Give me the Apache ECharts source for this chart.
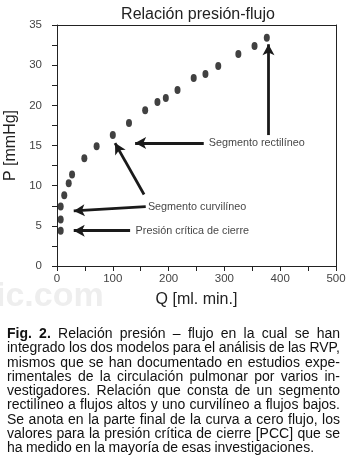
<!DOCTYPE html>
<html>
<head>
<meta charset="utf-8">
<script src="https://cdn.jsdelivr.net/npm/echarts@6/dist/echarts.min.js"></script>
<style>
	html, body { margin: 0; padding: 0; background: #fff; }
	#chart { position: absolute; left: 0; top: 0; width: 347px; height: 469px; }
	#caption {
		position: absolute; left: 7px; top: 326px; width: 333px;
		font-family: "Liberation Sans", Arial, sans-serif;
		font-size: 14px; line-height: 14.25px; word-spacing: -0.5px; color: #111;
	}
	#caption div { text-align: justify; text-align-last: justify; white-space: nowrap; }
	#caption div.last { text-align-last: left; }
</style>
</head>
<body>
<div id="chart"></div>
<div id="caption">
	<div><b>Fig. 2.</b> Relación presión – flujo en la cual se han</div>
	<div>integrado los dos modelos para el análisis de las RVP,</div>
	<div>mismos que se han documentado en estudios expe-</div>
	<div>rimentales de la circulación pulmonar por varios in-</div>
	<div>vestigadores. Relación que consta de un segmento</div>
	<div>rectilíneo a flujos altos y uno curvilíneo a flujos bajos.</div>
	<div>Se anota en la parte final de la curva a cero flujo, los</div>
	<div>valores para la presión crítica de cierre [PCC] que se</div>
	<div class="last">ha medido en la mayoría de esas investigaciones.</div>
</div>
<script>
	// flujo (ml/min) y presión (posición sobre el eje)
	var flowQ = [6.6, 6.6, 6.6, 13, 21, 27, 49, 71, 100, 129, 158, 180, 195, 216, 245, 266, 289, 325, 354, 376];
	var pressureP = [4.4, 5.8, 7.4, 8.8, 10.3, 11.4, 13.4, 14.9, 16.3, 17.8, 19.4, 20.4, 20.9, 21.9, 23.4, 23.9, 24.9, 26.4, 27.4, 28.4];
	// etiquetas del eje Y tal como aparecen en la figura
	var yTickLabels = ['0', '5', '10', '15', '20', '30', '35'];
	var noteTexts = ['Presión crítica de cierre', 'Segmento curvilíneo', 'Segmento rectilíneo'];

	var points = flowQ.map(function(q, i) { return [q, pressureP[i]]; });

	var chart = echarts.init(document.getElementById('chart'));
	var font = '"Liberation Sans", Arial, sans-serif';
	var ink = '#1a1a1a';
	var frame = { show: true, onZero: false, lineStyle: { color: '#222' } };

	chart.setOption({
		animation: false,
		title: {
			text: 'Relación presión-flujo',
			left: 193, top: 2, textAlign: 'center',
			textStyle: { fontFamily: font, fontSize: 16, fontWeight: 'normal', color: '#222' }
		},
		graphic: [{
			type: 'text', left: -4, top: 280, silent: true,
			style: { text: 'ic.com', font: 'bold 34px ' + font, fill: '#eeeeee' }
		}],
		grid: { left: 57, right: 11, top: 25, bottom: 203, outerBoundsMode: 'none', containLabel: false },
		xAxis: [{
			type: 'value', min: 0, max: 500, interval: 100,
			name: 'Q [ml. min.]', nameLocation: 'middle', nameGap: 26,
			nameTextStyle: { fontFamily: font, fontSize: 16, color: '#222' },
			axisLine: frame,
			axisTick: { show: true, length: 5, lineStyle: { color: '#222' } },
			minorTick: { show: true, splitNumber: 2, length: 5, lineStyle: { color: '#222' } },
			splitLine: { show: false },
			axisLabel: { fontFamily: font, fontSize: 11.5, color: '#444', margin: 7 }
		}, {
			// borde superior del marco
			type: 'value', min: 0, max: 500, position: 'top',
			axisLine: frame, axisTick: { show: false }, axisLabel: { show: false }, splitLine: { show: false }
		}],
		yAxis: [{
			type: 'value', min: 0, max: 30, interval: 5,
			name: 'P [mmHg]', nameLocation: 'middle', nameGap: 35,
			nameTextStyle: { fontFamily: font, fontSize: 16, color: '#222' },
			axisLine: frame,
			axisTick: { show: true, length: 5, lineStyle: { color: '#222' } },
			minorTick: { show: true, splitNumber: 2, length: 5, lineStyle: { color: '#222' } },
			splitLine: { show: false },
			axisLabel: {
				fontFamily: font, fontSize: 11.5, color: '#444', margin: 15,
				formatter: function(v) { return yTickLabels[Math.round(v / 5)]; }
			}
		}, {
			// borde derecho del marco
			type: 'value', min: 0, max: 30, position: 'right',
			axisLine: frame, axisTick: { show: false }, axisLabel: { show: false }, splitLine: { show: false }
		}],
		series: [{
			type: 'scatter',
			data: points,
			symbol: 'circle',
			symbolSize: [6, 8],
			itemStyle: { color: '#111' },
			markLine: {
				silent: true,
				symbol: ['none', 'arrow'],
				symbolSize: [9, 11],
				label: { show: false },
				lineStyle: { color: ink, width: 2.8, type: 'solid' },
				emphasis: { disabled: true },
				data: [
					[{ coord: [131, 4.4] }, { coord: [30, 4.4] }],
					[{ coord: [159, 7.4] }, { coord: [30, 6.85] }],
					[{ coord: [156, 8.9] }, { coord: [104, 15.3] }],
					[{ coord: [263, 15.3] }, { coord: [140, 15.3] }],
					[{ coord: [379, 16.3] }, { coord: [379, 27.6] }]
				]
			}
		}, {
			type: 'scatter',
			silent: true,
			symbolSize: 1,
			itemStyle: { color: 'rgba(0,0,0,0)' },
			data: [[140, 4.4], [162, 7.35], [271, 15.3]],
			label: {
				show: true, position: 'right', distance: 0,
				fontFamily: font, fontSize: 10.8, color: '#111',
				formatter: function(p) { return noteTexts[p.dataIndex]; }
			}
		}]
	});
</script>
</body>
</html>
